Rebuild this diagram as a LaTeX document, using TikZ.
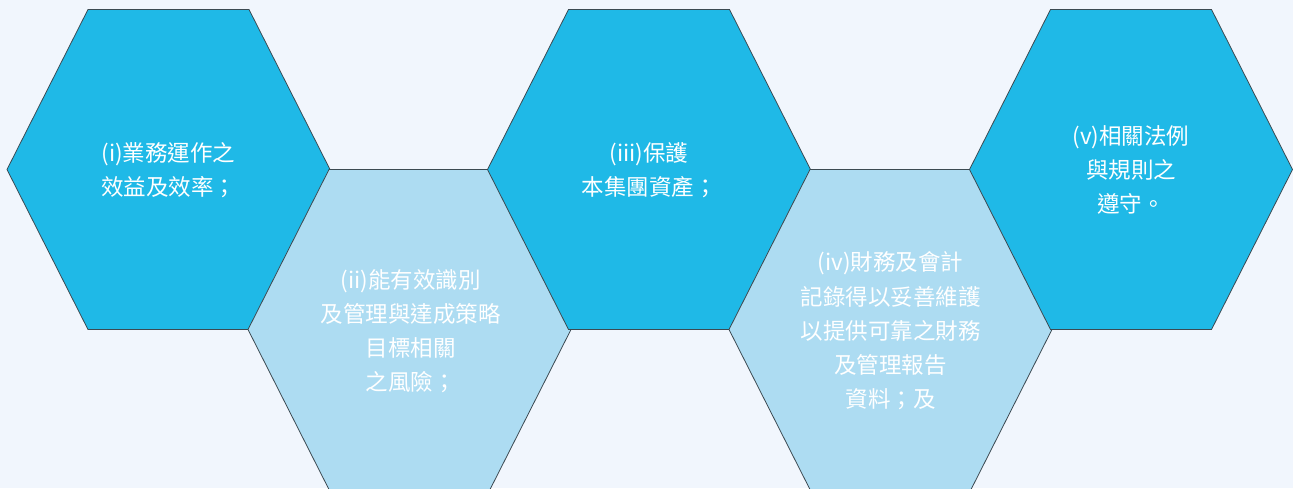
\documentclass[tikz,border=0pt]{standalone}
\usepackage{fontspec}
\setmainfont{Noto Sans CJK TC}
\definecolor{bgc}{HTML}{F1F6FD}
\definecolor{darkhex}{HTML}{1FB9E7}
\definecolor{lighthex}{HTML}{ADDCF2}
\definecolor{edgec}{HTML}{3C4A52}
\tikzset{
  hexedge/.style={draw=edgec, line width=0.8pt, line join=miter},
  hexlabel/.style={text=white, align=center, font=\fontsize{22.5}{34.2}\selectfont, inner sep=0pt}
}
\newcommand{\hexagonat}[3]{%
  \path[hexedge, fill=#3] ({#1-161.5},{#2}) -- ({#1-80.5},{#2-160}) -- ({#1+80.5},{#2-160})
    -- ({#1+161.5},{#2}) -- ({#1+80.5},{#2+160}) -- ({#1-80.5},{#2+160}) -- cycle;}
\begin{document}
\begin{tikzpicture}[x=1pt,y=-1pt]
\fill[bgc] (0,0) rectangle (1293,488);
\useasboundingbox (0,0) rectangle (1293,488);
\begin{scope}
\clip (0,0) rectangle (1293,488);
\hexagonat{168.5}{169.5}{darkhex}
\hexagonat{409.5}{329.5}{lighthex}
\hexagonat{649}{169.5}{darkhex}
\hexagonat{890.5}{329.5}{lighthex}
\hexagonat{1131}{169.5}{darkhex}
\end{scope}
\node[hexlabel] (t1) at (168.5,170) {(i)業務運作之\\效益及效率；};
\node[hexlabel] (t2) at (410.5,331) {(ii)能有效識別\\及管理與達成策略\\目標相關\\之風險；};
\node[hexlabel] (t3) at (649,170) {(iii)保護\\本集團資產；};
\node[hexlabel] (t4) at (890.5,331) {(iv)財務及會計\\記錄得以妥善維護\\以提供可靠之財務\\及管理報告\\資料；及};
\node[hexlabel] (t5) at (1131,170) {(v)相關法例\\與規則之\\遵守。};
\end{tikzpicture}
\end{document}
